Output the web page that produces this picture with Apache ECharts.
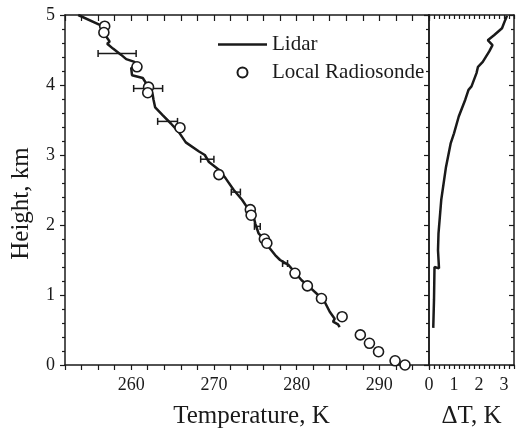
<!DOCTYPE html>
<html>
<head>
<meta charset="utf-8">
<script src="https://cdn.jsdelivr.net/npm/echarts@6/dist/echarts.min.js"></script>
<style>html,body{margin:0;padding:0;background:#fff}#c{width:517px;height:442px}</style>
</head>
<body>
<div id="c"></div>
<script>
// Lidar temperature profile (K) vs height (km)
var lidarTemp = [253.6,256.2,257.0,257.4,257.1,257.8,258.8,259.4,260.4,260.6,260.0,260.1,261.4,262.0,262.4,262.6,262.7,262.9,263.8,264.8,265.8,266.6,268.2,268.9,269.4,270.6,271.4,272.4,273.4,274.2,274.8,275.0,275.2,275.4,275.8,276.2,276.6,277.4,278.0,279.0,279.6,280.6,281.6,282.6,283.4,284.0,284.6,284.4,285.0,285.2];
var lidarHeight = [5.00,4.86,4.69,4.62,4.59,4.52,4.43,4.37,4.33,4.29,4.24,4.14,4.10,3.99,3.93,3.86,3.79,3.68,3.57,3.45,3.32,3.18,3.05,3.00,2.90,2.79,2.67,2.50,2.36,2.22,2.12,2.02,1.95,1.88,1.83,1.76,1.69,1.57,1.50,1.43,1.35,1.21,1.11,1.00,0.90,0.76,0.66,0.62,0.58,0.54];
// Local radiosonde
var sondeTemp = [256.8,256.7,260.7,262.1,262.0,265.9,270.6,274.4,274.5,276.1,276.4,279.8,281.3,283.0,285.5,287.7,288.8,289.9,291.9,293.1];
var sondeHeight = [4.84,4.75,4.26,3.97,3.89,3.39,2.72,2.22,2.14,1.80,1.74,1.31,1.13,0.95,0.69,0.43,0.31,0.19,0.06,0.00];
// Lidar error bars
var errLow = [256.0,260.3,263.2,268.4,272.1,274.9,278.3];
var errHigh = [260.6,263.8,265.6,270.0,273.2,275.6,278.9];
var errHeight = [4.45,3.95,3.48,2.94,2.47,1.98,1.45];
// Delta T (K) vs height (km)
var dTValue = [0.17,0.20,0.22,0.40,0.36,0.38,0.49,0.68,0.87,1.00,1.19,1.45,1.58,1.70,1.90,1.96,2.15,2.41,2.54,2.35,2.60,2.92,3.05,3.12];
var dTHeight = [0.53,0.93,1.40,1.38,1.64,1.88,2.36,2.83,3.17,3.31,3.55,3.79,3.93,3.98,4.17,4.26,4.33,4.48,4.57,4.64,4.71,4.81,4.93,4.99];

function zip(a, b) { return a.map(function (v, i) { return [v, b[i]]; }); }

var FONT = "'Liberation Serif','Times New Roman',serif";
var INK = '#1a1a1a';
var axisLine = { show: true, onZero: false, lineStyle: { color: INK, width: 1.5 } };

var chart = echarts.init(document.getElementById('c'), null, { renderer: 'canvas' });
chart.setOption({
  animation: false,
  backgroundColor: '#fff',
  textStyle: { fontFamily: FONT, color: INK },
  grid: [
    { left: 65, top: 15, width: 364, height: 350 },
    { left: 429, top: 15, width: 87, height: 350 }
  ],
  legend: {
    data: [
      { name: 'Lidar', icon: 'path://M0,0L49,0L49,2.5L0,2.5Z' },
      { name: 'Local Radiosonde', icon: 'circle' }
    ],
    orient: 'vertical', left: 218, top: 34, padding: 0,
    itemWidth: 49, itemHeight: 10, itemGap: 7,
    textStyle: { fontFamily: FONT, fontSize: 21, color: INK, lineHeight: 21 }
  },
  xAxis: [
    { gridIndex: 0, type: 'value', position: 'bottom', min: 252, max: 296, interval: 2,
      name: 'Temperature, K', nameLocation: 'middle', nameGap: 39,
      nameTextStyle: { fontFamily: FONT, fontSize: 25, color: INK, padding: [0, 0, 0, 9] },
      axisLine: axisLine, splitLine: { show: false },
      axisTick: { show: true, inside: false, length: 5, lineStyle: { color: INK, width: 1.2 } },
      axisLabel: { margin: 11, fontFamily: FONT, fontSize: 18, color: INK,
        formatter: function (v) { return Math.round(v) % 10 === 0 ? String(Math.round(v)) : ''; } } },
    { gridIndex: 0, type: 'value', position: 'top', min: 252, max: 296, interval: 2,
      axisLine: axisLine, splitLine: { show: false },
      axisTick: { show: true, inside: true, length: 6, lineStyle: { color: INK, width: 1.2 } },
      axisLabel: { show: false } },
    { gridIndex: 1, type: 'value', position: 'bottom', min: 0, max: 3.4, interval: 0.2,
      name: '\u0394T, K', nameLocation: 'middle', nameGap: 39,
      nameTextStyle: { fontFamily: FONT, fontSize: 25, color: INK },
      axisLine: axisLine, splitLine: { show: false },
      axisTick: { show: true, inside: false, length: 4, lineStyle: { color: INK, width: 1.2 } },
      axisLabel: { margin: 11, fontFamily: FONT, fontSize: 18, color: INK,
        formatter: function (v) { var r = Math.round(v); return Math.abs(v - r) < 1e-6 ? String(r) : ''; } } },
    { gridIndex: 1, type: 'value', position: 'top', min: 0, max: 3.4, interval: 0.2,
      axisLine: axisLine, splitLine: { show: false },
      axisTick: { show: true, inside: true, length: 4, lineStyle: { color: INK, width: 1.2 } },
      axisLabel: { show: false } }
  ],
  yAxis: [
    { gridIndex: 0, type: 'value', position: 'left', min: 0, max: 5, interval: 1,
      name: 'Height, km', nameLocation: 'middle', nameGap: 31,
      nameTextStyle: { fontFamily: FONT, fontSize: 25, color: INK, padding: [0, 27, 0, 0] },
      axisLine: axisLine, splitLine: { show: false },
      axisTick: { show: true, inside: false, length: 5, lineStyle: { color: INK, width: 1.2 } },
      minorTick: { show: true, splitNumber: 5, length: 3, lineStyle: { color: INK, width: 1.2 } },
      axisLabel: { margin: 10, fontFamily: FONT, fontSize: 18, color: INK } },
    { gridIndex: 0, type: 'value', position: 'right', min: 0, max: 5, interval: 1,
      axisLine: axisLine, splitLine: { show: false },
      axisTick: { show: true, inside: true, length: 5, lineStyle: { color: INK, width: 1.2 } },
      minorTick: { show: true, splitNumber: 5, length: 3, lineStyle: { color: INK, width: 1.2 } },
      axisLabel: { show: false } },
    { gridIndex: 1, type: 'value', position: 'left', min: 0, max: 5, interval: 1,
      axisLine: axisLine, splitLine: { show: false },
      axisTick: { show: false }, axisLabel: { show: false } },
    { gridIndex: 1, type: 'value', position: 'right', min: 0, max: 5, interval: 1,
      axisLine: axisLine, splitLine: { show: false },
      axisTick: { show: true, inside: true, length: 5, lineStyle: { color: INK, width: 1.2 } },
      minorTick: { show: true, splitNumber: 5, length: 3, lineStyle: { color: INK, width: 1.2 } },
      axisLabel: { show: false } }
  ],
  series: [
    { name: 'Lidar', type: 'line', xAxisIndex: 0, yAxisIndex: 0, data: zip(lidarTemp, lidarHeight),
      showSymbol: false, symbol: 'none', lineStyle: { color: INK, width: 2.5 }, itemStyle: { color: INK }, z: 3 },
    { name: 'Lidar error', type: 'custom', xAxisIndex: 0, yAxisIndex: 0,
      data: errLow.map(function (v, i) { return [v, errHigh[i], errHeight[i]]; }),
      encode: { x: [0, 1], y: 2 },
      renderItem: function (params, api) {
        var lo = api.coord([api.value(0), api.value(2)]);
        var hi = api.coord([api.value(1), api.value(2)]);
        var c = 3.5, st = { stroke: INK, lineWidth: 1.5 };
        return { type: 'group', children: [
          { type: 'line', shape: { x1: lo[0], y1: lo[1], x2: hi[0], y2: hi[1] }, style: st },
          { type: 'line', shape: { x1: lo[0], y1: lo[1] - c, x2: lo[0], y2: lo[1] + c }, style: st },
          { type: 'line', shape: { x1: hi[0], y1: hi[1] - c, x2: hi[0], y2: hi[1] + c }, style: st }
        ] };
      }, z: 3 },
    { name: 'Local Radiosonde', type: 'scatter', xAxisIndex: 0, yAxisIndex: 0, data: zip(sondeTemp, sondeHeight),
      symbol: 'circle', symbolSize: 10, itemStyle: { color: '#ffffff', borderColor: INK, borderWidth: 1.6, opacity: 1 }, z: 4 },
    { name: 'Delta T', type: 'line', xAxisIndex: 2, yAxisIndex: 2, data: zip(dTValue, dTHeight),
      showSymbol: false, symbol: 'none', lineStyle: { color: INK, width: 2.5 }, z: 3 }
  ]
});
</script>
</body>
</html>
